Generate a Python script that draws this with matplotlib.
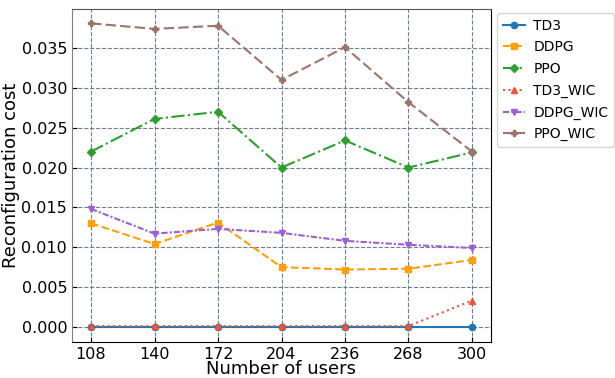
import numpy as np
import matplotlib.pyplot as plt

users = [108, 140, 172, 204, 236, 268, 300]
td3 = [0.0, 0.0, 0.0, 0.0, 0.0, 0.0, 0.0]
ddpg = [0.0130, 0.0104, 0.0131, 0.0075, 0.0072, 0.0073, 0.0084]
ppo = [0.0220, 0.0261, 0.0270, 0.0200, 0.0234, 0.0200, 0.0219]
td3_wic = [0.0001, 0.0001, 0.0001, 0.0001, 0.0001, 0.0001, 0.0033]
ddpg_wic = [0.0148, 0.0117, 0.0123, 0.0118, 0.0108, 0.0103, 0.0099]
ppo_wic = [0.0381, 0.0374, 0.0378, 0.0310, 0.0351, 0.0282, 0.0220]

series = [
    ("TD3", td3, "-", "o", "#1f77b4"),
    ("DDPG", ddpg, "--", "s", "#ff9f0a"),
    ("PPO", ppo, "-.", "D", "#2ca02c"),
    ("TD3_WIC", td3_wic, ":", "^", "#e8553a"),
    ("DDPG_WIC", ddpg_wic, (0, (3, 1, 1, 1)), "v", "#9b5fd6"),
    ("PPO_WIC", ppo_wic, (0, (5, 2)), "P", "#9c756a"),
]

fig = plt.figure(figsize=(6.15, 3.78), dpi=100)
ax = fig.add_axes([72 / 615, 36 / 378, 419 / 615, 333 / 378])
for name, vals, ls, mk, col in series:
    ax.plot(users, vals, linestyle=ls, marker=mk, color=col, label=name,
            markersize=4.5, linewidth=1.5)

ax.set_xticks(users)
ax.set_ylim(-0.0019, 0.0399)
ax.grid(True, linestyle="--", color="#5f7186", linewidth=0.8, alpha=0.9)
ax.tick_params(direction="in", labelsize=11.5)
ax.set_xlabel("Number of users", fontsize=13, labelpad=-1)
ax.set_ylabel("Reconfiguration cost", fontsize=13, labelpad=1)
ax.spines["left"].set_color("#808080")
ax.spines["top"].set_color("#555555")
ax.spines["bottom"].set_color("black")
ax.spines["right"].set_color("black")
ax.legend(loc="upper left", bbox_to_anchor=(1.005, 1.0), fontsize=10,
          handlelength=1.6, borderaxespad=0.3, labelspacing=0.55,
          handletextpad=0.6)
fig.savefig("out.png", dpi=100)
